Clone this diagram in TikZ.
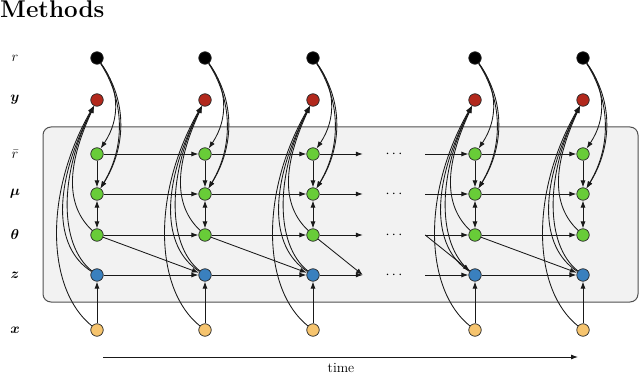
\documentclass[tikz,border=0pt]{standalone}
\usepackage{bm}
\usetikzlibrary{arrows.meta}
\definecolor{nred}{RGB}{178,40,28}
\definecolor{ngreen}{RGB}{104,204,56}
\definecolor{nblue}{RGB}{58,128,190}
\definecolor{norange}{RGB}{246,196,110}
\definecolor{boxfill}{RGB}{242,242,242}
\definecolor{boxline}{RGB}{80,80,80}
\tikzset{
  nd/.style={circle, draw=black!85, line width=0.7pt, minimum size=12.5pt, inner sep=0pt},
  arr/.style={-{Latex[length=7pt,width=5pt]}, line width=0.85pt, black!90},
  darr/.style={{Latex[length=7pt,width=5pt]}-{Latex[length=7pt,width=5pt]}, line width=0.85pt, black!90},
  rowlbl/.style={font=\fontsize{14}{17}\selectfont, inner sep=0pt},
  dotsbox/.style={minimum width=62pt, inner sep=0pt, font=\fontsize{14}{17}\selectfont}
}
\begin{document}
\begin{tikzpicture}[x=1pt,y=-1pt]
\useasboundingbox (0,0) rectangle (640,374);
\node[anchor=base west, inner sep=0pt, font=\fontsize{24.2}{28}\selectfont\bfseries] (title) at (0,18) {Methods};
\draw[fill=boxfill, draw=boxline, line width=1pt, rounded corners=8pt] (43,127) rectangle (638,302);
% row labels
\node[rowlbl] (lr) at (15,58) {$r$};
\node[rowlbl] (ly) at (15,100) {$\bm{y}$};
\node[rowlbl] (lrb) at (15,154) {$\bar{r}$};
\node[rowlbl] (lmu) at (15,194) {$\bm{\mu}$};
\node[rowlbl] (lth) at (15,235) {$\bm{\theta}$};
\node[rowlbl] (lz) at (15,275) {$\bm{z}$};
\node[rowlbl] (lx) at (15,330) {$\bm{x}$};
% nodes
\foreach \i/\X in {1/97,2/205,3/313,4/475,5/583}{
  \node[nd, fill=black] (r\i) at (\X,58) {};
  \node[nd, fill=nred] (y\i) at (\X,100) {};
  \node[nd, fill=ngreen] (rb\i) at (\X,154) {};
  \node[nd, fill=ngreen] (mu\i) at (\X,194) {};
  \node[nd, fill=ngreen] (th\i) at (\X,235) {};
  \node[nd, fill=nblue] (z\i) at (\X,275) {};
  \node[nd, fill=norange] (x\i) at (\X,330) {};
}
\foreach \n/\Y in {rb/154,mu/194,th/235,z/275}
  \node[dotsbox] (d\n) at (394,\Y) {$\cdots$};
% horizontal connections
\foreach \a/\b in {1/2,2/3,4/5}{
  \foreach \n in {rb,mu,th,z} \draw[arr] (\n\a) -- (\n\b);
  \draw[arr] (th\a) -- (z\b);
}
\foreach \n in {rb,mu,th,z}{
  \draw[arr] (\n3) -- (d\n.west);
  \draw[arr] (d\n.east) -- (\n4);
}
\draw[arr] (th3) -- (dz.west);
\draw[arr] (dth.east) -- (z4);
% per column
\foreach \i in {1,...,5}{
  \draw[arr] (rb\i) -- (mu\i);
  \draw[darr] (mu\i) -- (th\i);
  \draw[arr] (x\i) -- (z\i);
  \draw[arr] (r\i) .. controls +(22,30) and +(24,-36) .. (rb\i);
  \draw[arr] (r\i) .. controls +(26,40) and +(30,-50) .. (mu\i);
  \draw[arr] (r\i) .. controls +(32,45) and +(28,-45) .. (mu\i);
  \draw[arr] (th\i) .. controls +(-32,-30) and +(-30,65) .. (y\i);
  \draw[arr] (z\i) .. controls +(-38,-30) and +(-38,75) .. (y\i);
  \draw[arr] (z\i) .. controls +(-44,-28) and +(-44,85) .. (y\i);
  \draw[arr] (x\i) .. controls +(-50,-40) and +(-54,95) .. (y\i);
}
% time axis
\coordinate (t0) at (103,357);
\coordinate (t1) at (578,357);
\draw[arr] (t0) -- (t1);
\node[font=\fontsize{14}{17}\selectfont, inner sep=0pt] (tl) at (341,368) {time};
\end{tikzpicture}
\end{document}
